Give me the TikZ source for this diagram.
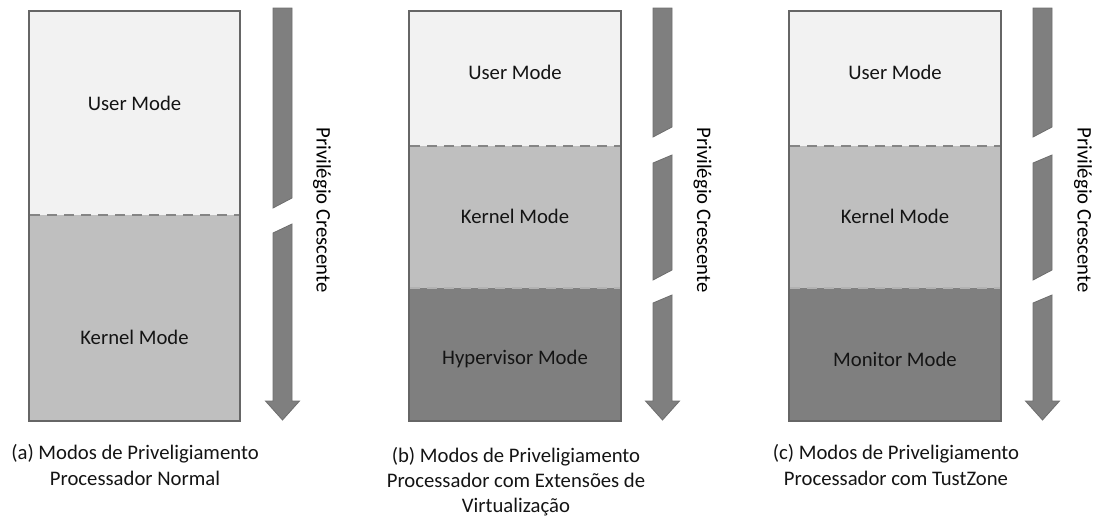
\documentclass[tikz,border=0pt]{standalone}
\usepackage{fontspec}
\setmainfont{Carlito}
\begin{document}
\begin{tikzpicture}[x=1pt,y=-1pt,
  boxline/.style={draw=boxgray,line width=2pt},
  sep/.style={draw=sepgray,line width=1.6pt,dash pattern=on 10pt off 7pt},
  arrowpart/.style={fill=arrgray,draw=arrline,line width=0.8pt,line join=miter},
  modelabel/.style={font=\fontsize{20.7}{24}\selectfont,text=black!92},
  privlabel/.style={font=\fontsize{20.7}{24}\selectfont,rotate=-90,text=black},
  caption/.style={font=\fontsize{20.7}{25.8}\selectfont,align=center,text=black!92}]
\definecolor{usercol}{HTML}{F2F2F2}
\definecolor{kernelcol}{HTML}{BFBFBF}
\definecolor{hypcol}{HTML}{7F7F7F}
\definecolor{boxgray}{HTML}{666666}
\definecolor{sepgray}{HTML}{858585}
\definecolor{arrgray}{HTML}{7F7F7F}
\definecolor{arrline}{HTML}{6E6E6E}
\useasboundingbox (0,0) rectangle (1095,517);

% ---------- (a) normal processor ----------
\fill[usercol] (29,11) rectangle (240,215);
\fill[kernelcol] (29,215) rectangle (240,421);
\draw[sep] (30,215) -- (239,215);
\draw[boxline] (29,11) rectangle (240,421);
\node[modelabel] (ua) at (134.5,103) {User Mode};
\node[modelabel] (ka) at (134.5,337) {Kernel Mode};
% broken arrow (a)
\draw[arrowpart] (273,8) -- (292,8) -- (292,198) -- (273,208) -- cycle;
\draw[arrowpart] (273,233) -- (292,224) -- (292,401) -- (299.5,401) -- (282.5,420) -- (265.5,401) -- (273,401) -- cycle;
\node[privlabel] (pa) at (322,210) {Privilégio Crescente};
\node[caption] (ca) at (135,465) {(a) Modos de Priveligiamento\\Processador Normal};

% ---------- (b) with virtualization extensions ----------
\fill[usercol] (409,11) rectangle (621,146);
\fill[kernelcol] (409,146) rectangle (621,288);
\fill[hypcol] (409,288) rectangle (621,421);
\draw[sep] (410,146) -- (620,146);
\draw[sep,draw=kernelcol!80!gray] (410,288) -- (620,288);
\draw[boxline] (409,11) rectangle (621,421);
\node[modelabel] (ub) at (515,72) {User Mode};
\node[modelabel] (kb) at (515,216) {Kernel Mode};
\node[modelabel] (hb) at (515,359) {Hypervisor Mode};
% broken arrow (b)
\draw[arrowpart] (653,8) -- (672,8) -- (672,127) -- (653,137) -- cycle;
\draw[arrowpart] (653,163) -- (672,155) -- (672,270) -- (653,280) -- cycle;
\draw[arrowpart] (653,303) -- (672,295) -- (672,401) -- (679.5,401) -- (662.5,420) -- (645.5,401) -- (653,401) -- cycle;
\node[privlabel] (pb) at (702.5,210) {Privilégio Crescente};
\node[caption,font=\fontsize{20.7}{25}\selectfont] (cb) at (516,482) {(b) Modos de Priveligiamento\\Processador com Extensões de\\Virtualização};

% ---------- (c) with TrustZone ----------
\fill[usercol] (789,11) rectangle (1001,146);
\fill[kernelcol] (789,146) rectangle (1001,288);
\fill[hypcol] (789,288) rectangle (1001,421);
\draw[sep] (790,146) -- (1000,146);
\draw[sep,draw=kernelcol!80!gray] (790,288) -- (1000,288);
\draw[boxline] (789,11) rectangle (1001,421);
\node[modelabel] (uc) at (895,72) {User Mode};
\node[modelabel] (kc) at (895,216) {Kernel Mode};
\node[modelabel] (mc) at (895,359) {Monitor Mode};
% broken arrow (c)
\draw[arrowpart] (1033,8) -- (1052,8) -- (1052,127) -- (1033,137) -- cycle;
\draw[arrowpart] (1033,163) -- (1052,155) -- (1052,270) -- (1033,280) -- cycle;
\draw[arrowpart] (1033,303) -- (1052,295) -- (1052,401) -- (1059.5,401) -- (1042.5,420) -- (1025.5,401) -- (1033,401) -- cycle;
\node[privlabel] (pc) at (1083,210) {Privilégio Crescente};
\node[caption] (cc) at (896,465) {(c) Modos de Priveligiamento\\Processador com TustZone};
\end{tikzpicture}
\end{document}
